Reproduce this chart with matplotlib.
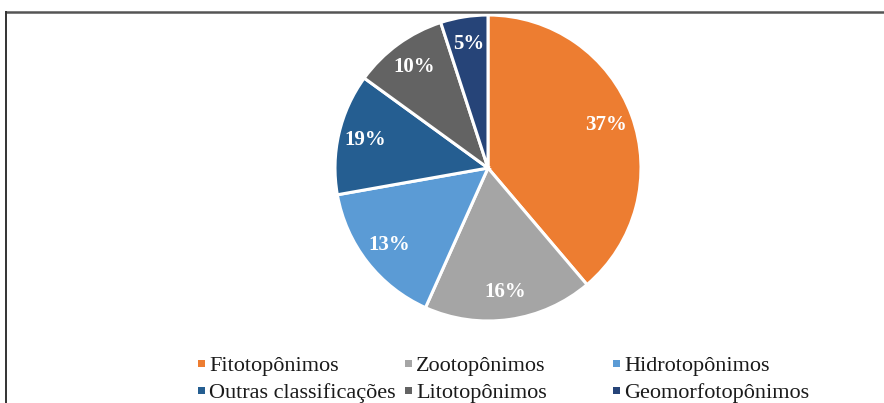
import numpy as np
import matplotlib.pyplot as plt
from matplotlib.lines import Line2D
from matplotlib.patches import Rectangle

# data
categories = ['Fitotopônimos', 'Zootopônimos', 'Hidrotopônimos',
              'Outras classificações', 'Litotopônimos', 'Geomorfotopônimos']
pct_labels = ['37%', '16%', '13%', '19%', '10%', '5%']
# wedge sizes as drawn in the picture (labels do not match the drawn angles)
wedge_sizes = [38.8, 17.9, 15.5, 12.8, 10.0, 5.0]
colors = ['#ED7D31', '#A5A5A5', '#5B9BD5', '#255E91', '#636363', '#264478']

W, H = 884, 403
fig = plt.figure(figsize=(W / 100, H / 100), dpi=100)
fig.patch.set_facecolor('white')

# pie axes (pixel based placement)
cx, cy, r = 488, 168, 153
ax = fig.add_axes([(cx - r) / W, (H - cy - r) / H, 2 * r / W, 2 * r / H])
wedges, _ = ax.pie(wedge_sizes, colors=colors, startangle=90, counterclock=False,
                   wedgeprops=dict(edgecolor='white', linewidth=2.2))
for w, lab in zip(wedges, pct_labels):
    mid = np.deg2rad((w.theta1 + w.theta2) / 2)
    ax.text(0.82 * np.cos(mid), 0.82 * np.sin(mid), lab, color='white',
            fontweight='bold', family='Liberation Serif', fontsize=15,
            ha='center', va='center')
ax.set_xlim(-1.0, 1.0)
ax.set_ylim(-1.0, 1.0)
ax.axis('off')

# frame lines (box cut by image edges)
fig.add_artist(Line2D([6 / W, 1], [1 - 11.5 / H, 1 - 11.5 / H],
                      transform=fig.transFigure, color='#555555', lw=1.8))
fig.add_artist(Line2D([6 / W, 6 / W], [0, 1 - 11.5 / H],
                      transform=fig.transFigure, color='#333333', lw=1.4))

# legend drawn by hand
col_x = [201, 408, 616]
row_y = [363, 390]
for i, (lab, c) in enumerate(zip(categories, colors)):
    x = col_x[i % 3]
    y = row_y[i // 3]
    s = 7
    fig.add_artist(Rectangle(((x - s / 2) / W, (H - y - s / 2) / H), s / W, s / H,
                             transform=fig.transFigure, color=c, lw=0))
    fig.text((x + 8) / W, (H - y - 8) / H, lab, family='Liberation Serif',
             fontsize=16, color='#1a1a1a', va='baseline', ha='left')

fig.savefig('out.png', dpi=100)
